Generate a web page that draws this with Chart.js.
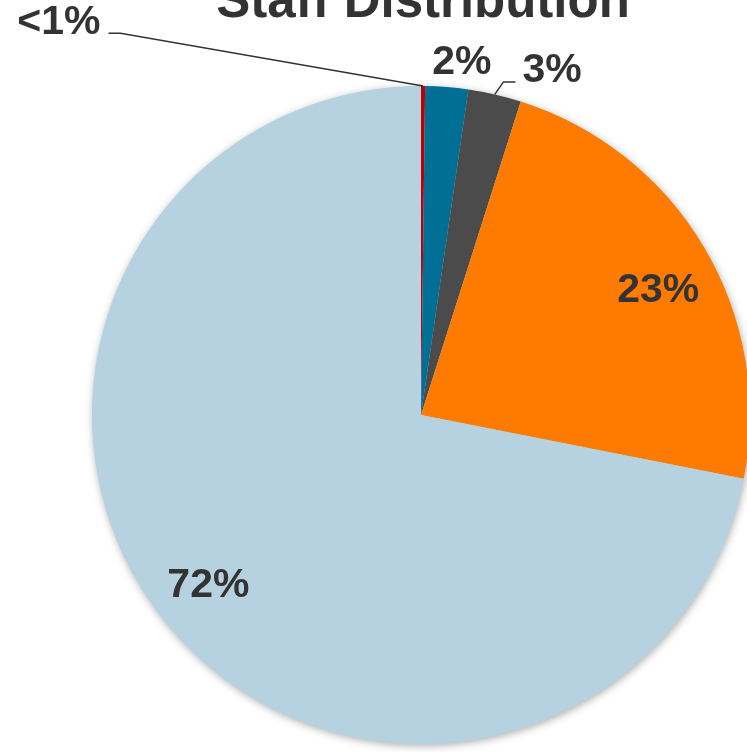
<!DOCTYPE html>
<html>
<head>
<meta charset="utf-8">
<script src="https://cdn.jsdelivr.net/npm/chart.js@4"></script>
<style>
  html, body { margin: 0; padding: 0; background: #fff; overflow: hidden; }
  #chart-box { position: absolute; left: 0; top: 0; width: 760px; height: 760px; }
</style>
</head>
<body>
<div id="chart-box"><canvas id="staffChart"></canvas></div>
<script>
/* ---------------------------- Data --------------------------------------------- */

const categories = ['Group A', 'Group B', 'Group C', 'Group D', 'Group E']
const shares = [0.2, 2.1, 2.6, 23.2, 71.9]
const sliceColors = ['#c00000', '#006f96', '#4b4b4b', '#ff7b00', '#b6d2e0']
const chartTitle = 'Staff Distribution'

// where each percentage goes: angle (deg clockwise from 12 o'clock) and distance in radii
const labelPlacement = [
    { angle: -42.6, dist: 1.626, leader: 'left' },
    { angle: 6.6, dist: 1.08 },
    { angle: 20.8, dist: 1.122, leader: 'right' },
    { angle: 62.2, dist: 0.815 },
    { angle: 231.4, dist: 0.827 }
]

const textColor = '#333333'
const labelFont = 'bold 41px "Liberation Sans", Arial, sans-serif'

const pctText = v => v < 1 ? '<1%' : Math.round(v) + '%'

/* ---------------------------- Plugins --------------------------------------------- */

const pieExtras = {
    id: 'pieExtras',
    beforeDatasetsDraw(chart) {
        // soft shadow under the whole pie
        const arc = chart.getDatasetMeta(0).data[0]
        const ctx = chart.ctx
        ctx.save()
        ctx.shadowColor = 'rgba(0,0,0,0.35)'
        ctx.shadowBlur = 8
        ctx.shadowOffsetX = 1
        ctx.shadowOffsetY = 2
        ctx.fillStyle = sliceColors[4]
        ctx.beginPath()
        ctx.arc(arc.x, arc.y, arc.outerRadius - 0.5, 0, Math.PI * 2)
        ctx.fill()
        ctx.restore()
    },
    afterDatasetsDraw(chart) {
        const ctx = chart.ctx
        const meta = chart.getDatasetMeta(0)
        ctx.save()
        ctx.font = labelFont
        ctx.fillStyle = textColor
        ctx.strokeStyle = textColor
        ctx.lineWidth = 1.5
        ctx.textBaseline = 'middle'
        meta.data.forEach((arc, i) => {
            const p = labelPlacement[i]
            const r = arc.outerRadius
            const mid = (arc.startAngle + arc.endAngle) / 2
            const ang = p.angle * Math.PI / 180 - Math.PI / 2
            const lx = arc.x + Math.cos(ang) * r * p.dist
            const ly = arc.y + Math.sin(ang) * r * p.dist
            const txt = pctText(shares[i])
            const w = ctx.measureText(txt).width
            ctx.textAlign = 'center'
            ctx.fillText(txt, lx, ly + 1)
            if (p.leader) {
                const ex = arc.x + Math.cos(mid) * r
                const ey = arc.y + Math.sin(mid) * r
                const yLine = ly + 12
                let x1, x2
                if (p.leader === 'left') {
                    x1 = lx + w / 2 + 8
                    x2 = x1 + 12
                } else {
                    x1 = lx - w / 2 - 7
                    x2 = x1 - 12
                }
                ctx.beginPath()
                ctx.moveTo(x1, yLine)
                ctx.lineTo(x2, yLine)
                ctx.lineTo(ex, ey)
                ctx.stroke()
            }
        })
        ctx.restore()
    },
    afterDraw(chart) {
        const ctx = chart.ctx
        const arc = chart.getDatasetMeta(0).data[0]
        ctx.save()
        ctx.font = 'bold 51px "Liberation Sans", Arial, sans-serif'
        ctx.fillStyle = textColor
        ctx.textAlign = 'center'
        ctx.textBaseline = 'alphabetic'
        ctx.fillText(chartTitle, arc.x + 2, 17)
        ctx.restore()
    }
}

/* ---------------------------- Chart --------------------------------------------- */

const config = {
    type: 'pie',
    data: {
        labels: categories,
        datasets: [{
            data: shares,
            backgroundColor: sliceColors,
            borderWidth: 0
        }]
    },
    options: {
        responsive: true,
        maintainAspectRatio: false,
        animation: false,
        layout: {
            padding: { left: 92, right: 10, top: 86, bottom: 16 }
        },
        plugins: {
            legend: { display: false },
            tooltip: { enabled: false },
            title: { display: false }
        }
    },
    plugins: [pieExtras]
}

var ctx = document.getElementById('staffChart')
var staffChart = new Chart(ctx, config)
</script>
</body>
</html>
